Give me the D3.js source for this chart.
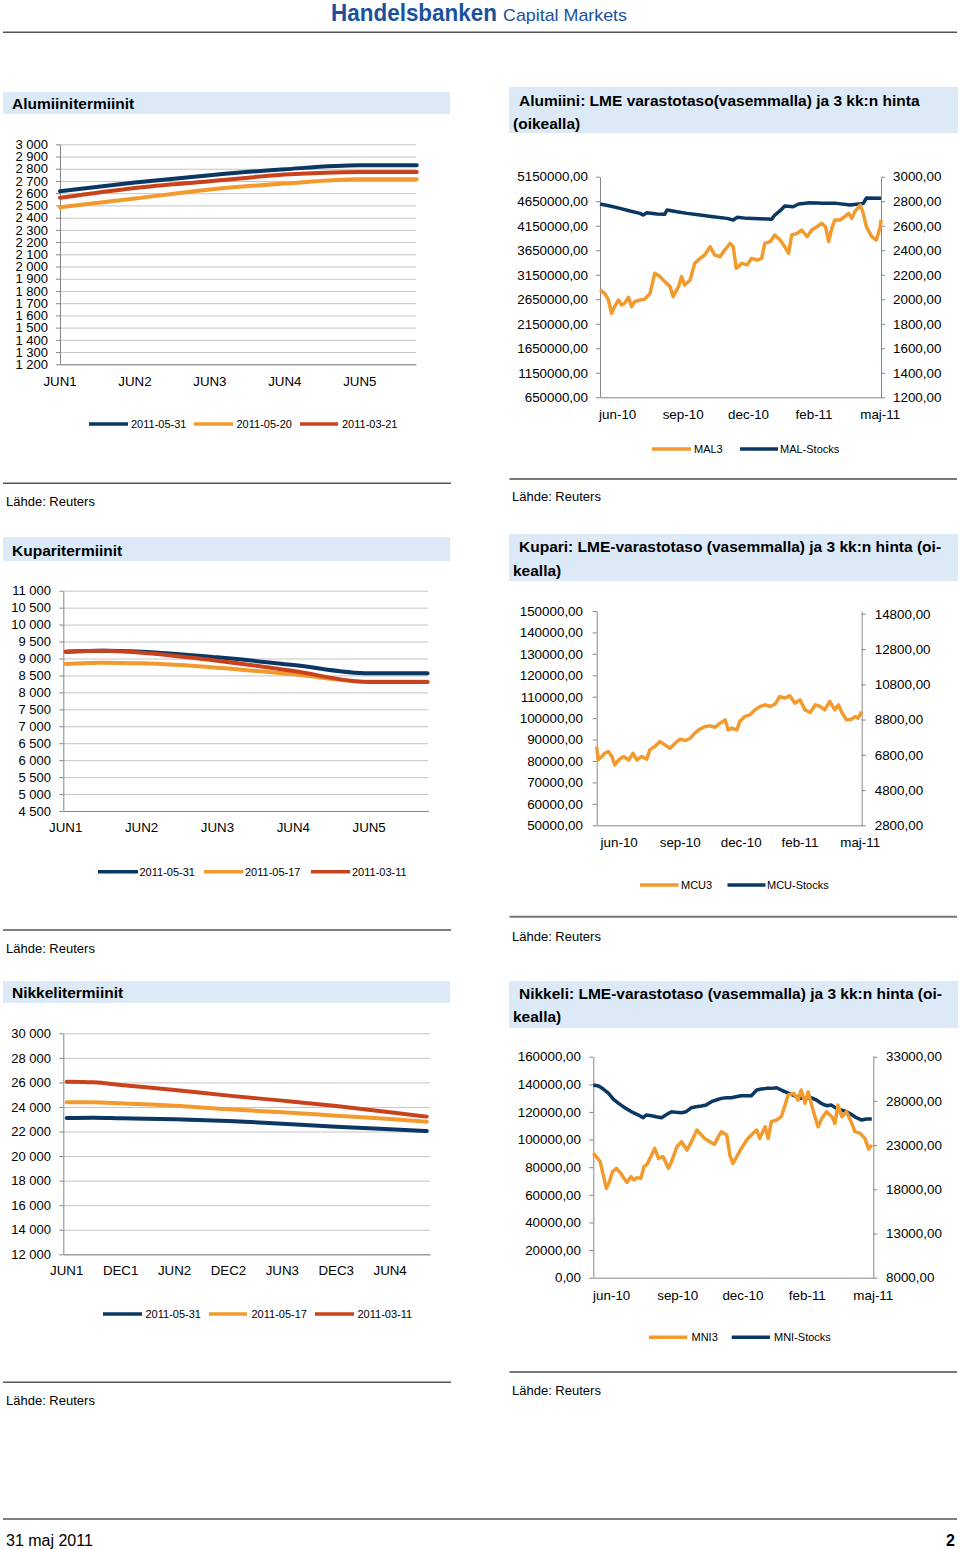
<!DOCTYPE html>
<html>
<head>
<meta charset="utf-8">
<script src="https://cdn.jsdelivr.net/npm/d3@7"></script>
<style>
body { margin: 0; background: #fff; }
text { font-family: "Liberation Sans", Arial, sans-serif; fill: #000; }
</style>
</head>
<body>
<div id="page"></div>
<script>
// ---- data ----
const fwdLegendAl = ["2011-05-31", "2011-05-20", "2011-03-21"];
const fwdLegendCuNi = ["2011-05-31", "2011-05-17", "2011-03-11"];

// aluminium forward curve
const alMonths = ["JUN1", "JUN2", "JUN3", "JUN4", "JUN5"];
const alPos = [0, 1, 2, 3, 4, 4.76];
const al0531 = [2616, 2687, 2747, 2796, 2828, 2828];
const al0520 = [2485, 2556, 2630, 2679, 2714, 2714];
const al0321 = [2562, 2643, 2698, 2752, 2774, 2774];

// copper forward curve
const cuMonths = ["JUN1", "JUN2", "JUN3", "JUN4", "JUN5"];
const cuPos = [0, 0.5, 1, 2, 3, 4, 4.77];
const cu0531 = [9200, 9230, 9200, 9033, 8807, 8561, 8561];
const cu0517 = [8837, 8876, 8856, 8728, 8532, 8315, 8315];
const cu0311 = [9200, 9230, 9171, 8935, 8630, 8306, 8306];

// nickel forward curve
const niMonths = ["JUN1", "DEC1", "JUN2", "DEC2", "JUN3", "DEC3", "JUN4"];
const niPos = [0, 0.5, 1, 2, 3, 4, 5, 6, 6.68];
const ni0531 = [23104, 23131, 23077, 22995, 22860, 22642, 22398, 22180, 22045];
const ni0517 = [24380, 24380, 24298, 24108, 23810, 23565, 23294, 23022, 22805];
const ni0311 = [26063, 26010, 25792, 25385, 24923, 24516, 24081, 23565, 23213];

// time axis labels (days from start of window)
const monthLabels = ["jun-10", "sep-10", "dec-10", "feb-11", "maj-11"];
const alTickDays = [23, 108, 193, 278, 364];
const cuTickDays = [31, 115, 199, 280, 363];
const niTickDays = [24, 110, 195, 279, 365];

// MAL-Stocks (left axis)
const alStockDays = [0, 13, 26, 39, 52, 56, 61, 74, 84, 87, 100, 113, 130, 147, 165, 173, 178, 191, 208, 223, 227, 234, 240, 251, 258, 273, 290, 307, 325, 342, 346, 365];
const alStockVals = [4593000, 4552000, 4504000, 4450000, 4402000, 4368000, 4416000, 4389000, 4382000, 4470000, 4436000, 4402000, 4368000, 4334000, 4300000, 4266000, 4321000, 4300000, 4293000, 4280000, 4368000, 4457000, 4552000, 4538000, 4593000, 4620000, 4606000, 4606000, 4572000, 4606000, 4715000, 4708000];
// MAL3 (right axis)
const alPriceDays = [0, 6, 11, 15, 19, 24, 28, 32, 37, 41, 45, 52, 58, 65, 71, 78, 84, 91, 95, 102, 106, 110, 117, 123, 130, 136, 143, 149, 156, 162, 169, 173, 177, 184, 191, 197, 204, 210, 214, 221, 227, 234, 240, 245, 249, 256, 262, 269, 275, 282, 288, 293, 297, 301, 305, 312, 318, 323, 327, 331, 338, 342, 346, 353, 359, 364, 365];
const alPriceVals = [2076, 2048, 1994, 1885, 1940, 1994, 1953, 1967, 2016, 1940, 1980, 1994, 2000, 2048, 2212, 2185, 2144, 2103, 2021, 2103, 2185, 2116, 2157, 2293, 2334, 2361, 2429, 2361, 2347, 2402, 2456, 2429, 2252, 2293, 2280, 2334, 2320, 2334, 2456, 2470, 2524, 2483, 2429, 2375, 2524, 2538, 2565, 2511, 2565, 2592, 2619, 2592, 2470, 2579, 2647, 2647, 2674, 2701, 2660, 2715, 2769, 2701, 2592, 2511, 2483, 2592, 2647];

// MCU3 (right axis); MCU-Stocks is off the left scale
const cuPriceDays = [0, 2, 7, 11, 16, 21, 25, 30, 37, 44, 50, 55, 62, 69, 73, 80, 87, 94, 101, 108, 115, 122, 129, 135, 142, 149, 156, 163, 170, 177, 181, 186, 193, 197, 204, 211, 218, 225, 232, 239, 246, 252, 259, 266, 273, 280, 287, 294, 301, 308, 314, 321, 328, 333, 337, 344, 351, 356, 360, 365];
const cuPriceVals = [7267, 6510, 6700, 6889, 6983, 6700, 6226, 6510, 6700, 6510, 6889, 6510, 6700, 6548, 7078, 7267, 7551, 7362, 7173, 7457, 7684, 7608, 7741, 8025, 8252, 8403, 8441, 8365, 8593, 8782, 8214, 8309, 8214, 8687, 8971, 9066, 9350, 9539, 9634, 9539, 9691, 10107, 10012, 10145, 9728, 9917, 9350, 9198, 9634, 9539, 9350, 9823, 9350, 9634, 9255, 8782, 8820, 8971, 8876, 9255];
const cuStockDays = [];
const cuStockVals = [];

// MNI-Stocks (left axis)
const niStockDays = [0, 7, 13, 20, 26, 33, 39, 46, 52, 59, 65, 69, 76, 82, 89, 96, 102, 108, 115, 121, 128, 134, 141, 147, 154, 160, 167, 174, 180, 186, 193, 199, 206, 213, 219, 226, 232, 239, 245, 252, 258, 265, 271, 278, 284, 291, 297, 304, 310, 317, 323, 330, 336, 343, 350, 356, 363];
const niStockVals = [139490, 138766, 136594, 133457, 129355, 126218, 123805, 121392, 119462, 117773, 115842, 117773, 117290, 116566, 115842, 118255, 120185, 119703, 119462, 120185, 123081, 123805, 124287, 125011, 127424, 128631, 129837, 130320, 130320, 131044, 131768, 131768, 131768, 135870, 136594, 137077, 137077, 137559, 135870, 134181, 132733, 131044, 129837, 129837, 130320, 128631, 126218, 124529, 125011, 122598, 121392, 120185, 118255, 115842, 114153, 114877, 114877];
// MNI3 (right axis)
const niPriceDays = [0, 4, 9, 13, 17, 21, 25, 30, 36, 40, 44, 49, 53, 57, 62, 66, 70, 76, 80, 85, 91, 98, 102, 109, 115, 122, 128, 135, 139, 145, 152, 158, 163, 167, 174, 178, 182, 187, 193, 200, 206, 213, 217, 224, 228, 232, 239, 245, 250, 254, 261, 267, 271, 276, 280, 287, 293, 298, 304, 311, 315, 319, 324, 330, 337, 341, 348, 354, 359, 363];
const niPriceVals = [22064, 21687, 21121, 19613, 18105, 18859, 19990, 20367, 19802, 19236, 18784, 19425, 19048, 19312, 19236, 20556, 20820, 21876, 22630, 21499, 21687, 20367, 21121, 22818, 23384, 22441, 23384, 24704, 24327, 23761, 23384, 23082, 23950, 24516, 24138, 21876, 20933, 21687, 22630, 23573, 24138, 24704, 23761, 25081, 23761, 25647, 25835, 26212, 27532, 28663, 28852, 28098, 29229, 27721, 29041, 26778, 25081, 26024, 26778, 26212, 25458, 27532, 26212, 26778, 25458, 24516, 24327, 23761, 22554, 23007];

// ---- style ----
const BLUE = "#0b3763";
const ORANGE = "#f29a2e";
const RED = "#c9421b";
const GRID = "#c4c4c4";
const AXIS = "#878787";
const TITLE_BG = "#dceaf8";
const BRAND = "#1a519d";

const loc = d3.formatLocale({decimal: ",", thousands: " ", grouping: [3], currency: ["", ""]});
const fmtFwd = loc.format(",d");
const fmtTs = loc.format(".2f");

const svg = d3.select("#page").append("svg")
  .attr("width", 960)
  .attr("height", 1549);

svg.append("rect").attr("width", 960).attr("height", 1549).attr("fill", "white");

// header
svg.append("text").attr("x", 331).attr("y", 21)
  .attr("font-size", 24).attr("font-weight", "bold")
  .attr("textLength", 166).attr("lengthAdjust", "spacingAndGlyphs")
  .style("fill", BRAND).text("Handelsbanken");
svg.append("text").attr("x", 503).attr("y", 20.5)
  .attr("font-size", 17)
  .attr("textLength", 124).attr("lengthAdjust", "spacingAndGlyphs")
  .style("fill", BRAND).text("Capital Markets");
svg.append("line").attr("x1", 3).attr("x2", 957).attr("y1", 32.3).attr("y2", 32.3)
  .attr("stroke", "#555").attr("stroke-width", 1.5);

function titleBox(b) {
  svg.append("rect").attr("x", b.x).attr("y", b.y).attr("width", b.w).attr("height", b.h)
    .attr("fill", TITLE_BG);
  b.lines.forEach((t, i) => {
    svg.append("text").attr("x", b.tx[i]).attr("y", b.ty[i]).attr("dy", "0.35em")
      .attr("font-size", 15.5).attr("font-weight", "bold").text(t);
  });
}

function styleAxis(size) {
  return a => {
    a.select(".domain").attr("stroke", AXIS);
    a.selectAll(".tick line").attr("stroke", AXIS);
    a.selectAll("text").attr("font-size", size);
  };
}

function legend(items) {
  items.forEach(it => {
    svg.append("line").attr("x1", it.x1).attr("x2", it.x2).attr("y1", it.y).attr("y2", it.y)
      .attr("stroke", it.color).attr("stroke-width", 3.5);
    svg.append("text").attr("x", it.tx).attr("y", it.y).attr("dy", "0.35em")
      .attr("font-size", 11).text(it.label);
  });
}

function source(s) {
  svg.append("line").attr("x1", s.x1).attr("x2", s.x2).attr("y1", s.ly).attr("y2", s.ly)
    .attr("stroke", s.stroke).attr("stroke-width", s.sw);
  svg.append("text").attr("x", s.tx).attr("y", s.ty).attr("dy", "0.35em")
    .attr("font-size", 13).text("Lähde: Reuters");
}

function forwardChart(c, months, pos, series) {
  const g = svg.append("g");
  const x = d3.scaleLinear().domain(c.xDomain).range([c.left, c.right]);
  const y = d3.scaleLinear().domain(c.yDomain).range([c.bottom, c.top]);
  const yTicks = d3.range(c.yDomain[0], c.yDomain[1] + c.yStep / 2, c.yStep);

  // gridlines
  g.append("g").attr("transform", `translate(${c.left},0)`)
    .call(d3.axisLeft(y).tickValues(yTicks).tickSize(-(c.right - c.left)).tickFormat(""))
    .call(a => { a.select(".domain").remove(); a.selectAll("line").attr("stroke", GRID); });

  // y axis
  g.append("g").attr("transform", `translate(${c.left},0)`)
    .call(d3.axisLeft(y).tickValues(yTicks).tickSize(4).tickSizeOuter(0).tickPadding(c.pad).tickFormat(fmtFwd))
    .call(styleAxis(13));

  // x axis line
  g.append("g").attr("transform", `translate(0,${c.bottom})`)
    .call(d3.axisBottom(x).tickValues([]).tickSizeOuter(0))
    .call(styleAxis(13));

  g.selectAll("text.cat").data(months).join("text").attr("class", "cat")
    .attr("x", (d, i) => x(i)).attr("y", c.labelY).attr("dy", "0.35em")
    .attr("text-anchor", "middle").attr("font-size", 13.3).text(d => d);

  const line = d3.line().x((d, i) => x(pos[i])).y(d => y(d)).curve(d3.curveMonotoneX);
  series.forEach(s => {
    g.append("path").datum(s.values).attr("d", line)
      .attr("fill", "none").attr("stroke", s.color).attr("stroke-width", 4)
      .attr("stroke-linecap", "round");
  });
}

function timeChart(c, tickDays, series) {
  const g = svg.append("g");
  const x = d3.scaleLinear().domain([0, 365]).range([c.left, c.right]);
  const yL = d3.scaleLinear().domain(c.lDomain).range([c.bottom, c.top]);
  const yR = d3.scaleLinear().domain(c.rDomain).range([c.bottom, c.top]);
  const lTicks = d3.range(c.lDomain[0], c.lMax + c.lStep / 2, c.lStep);
  const rTicks = d3.range(c.rDomain[0], c.rMax + c.rStep / 2, c.rStep);

  g.append("g").attr("transform", `translate(${c.left},0)`)
    .call(d3.axisLeft(yL).tickValues(lTicks).tickSize(4).tickSizeOuter(0).tickPadding(c.lPad).tickFormat(fmtTs))
    .call(styleAxis(13.4));
  g.append("g").attr("transform", `translate(${c.right},0)`)
    .call(d3.axisRight(yR).tickValues(rTicks).tickSize(4).tickSizeOuter(0).tickPadding(c.rPad).tickFormat(fmtTs))
    .call(styleAxis(13.4));
  g.append("g").attr("transform", `translate(0,${c.bottom})`)
    .call(d3.axisBottom(x).tickValues([]).tickSizeOuter(0))
    .call(styleAxis(13.4));

  g.selectAll("text.mon").data(monthLabels).join("text").attr("class", "mon")
    .attr("x", (d, i) => x(tickDays[i])).attr("y", c.labelY).attr("dy", "0.35em")
    .attr("text-anchor", "middle").attr("font-size", 13.4).text(d => d);

  series.forEach(s => {
    const yS = s.axis === "left" ? yL : yR;
    const pts = s.days.map((d, i) => [d, s.values[i]]);
    const line = d3.line().x(d => x(d[0])).y(d => yS(d[1]));
    g.append("path").datum(pts).attr("d", line)
      .attr("fill", "none").attr("stroke", s.color).attr("stroke-width", 3.5)
      .attr("stroke-linejoin", "round");
  });
}

// ---- row 1: aluminium ----
titleBox({x: 3, y: 92, w: 447, h: 22, lines: ["Alumiinitermiinit"], tx: [12], ty: [104]});
forwardChart({left: 60, right: 416, top: 144.3, bottom: 364.3, xDomain: [0, 4.75],
  yDomain: [1200, 3000], yStep: 100, pad: 8, labelY: 381},
  alMonths, alPos,
  [{values: al0531, color: BLUE}, {values: al0520, color: ORANGE}, {values: al0321, color: RED}]);
legend([
  {label: fwdLegendAl[0], color: BLUE, x1: 89, x2: 128, tx: 131, y: 424},
  {label: fwdLegendAl[1], color: ORANGE, x1: 194, x2: 233, tx: 236.5, y: 424},
  {label: fwdLegendAl[2], color: RED, x1: 300, x2: 338, tx: 342, y: 424}
]);

titleBox({x: 509, y: 87, w: 449, h: 46,
  lines: ["Alumiini: LME varastotaso(vasemmalla) ja 3 kk:n hinta", "(oikealla)"],
  tx: [519, 513], ty: [100.7, 123.3]});
timeChart({left: 600, right: 881, top: 176.7, bottom: 397.3,
  lDomain: [650000, 5150000], lMax: 5150000, lStep: 500000, lPad: 8,
  rDomain: [1200, 3000], rMax: 3000, rStep: 200, rPad: 8, labelY: 414},
  alTickDays,
  [{days: alStockDays, values: alStockVals, axis: "left", color: BLUE},
   {days: alPriceDays, values: alPriceVals, axis: "right", color: ORANGE}]);
legend([
  {label: "MAL3", color: ORANGE, x1: 652, x2: 691, tx: 694, y: 449},
  {label: "MAL-Stocks", color: BLUE, x1: 740, x2: 778, tx: 780, y: 449}
]);

source({x1: 3, x2: 451, ly: 483.3, stroke: "#555", sw: 1.5, tx: 6, ty: 501.7});
source({x1: 509.5, x2: 957, ly: 479, stroke: "#777", sw: 2, tx: 512, ty: 496.7});

// ---- row 2: copper ----
titleBox({x: 3, y: 537, w: 447, h: 24, lines: ["Kuparitermiinit"], tx: [12], ty: [551]});
forwardChart({left: 63.3, right: 428.3, top: 590.7, bottom: 811, xDomain: [-0.032, 4.78],
  yDomain: [4500, 11000], yStep: 500, pad: 8.3, labelY: 827.7},
  cuMonths, cuPos,
  [{values: cu0531, color: BLUE}, {values: cu0517, color: ORANGE}, {values: cu0311, color: RED}]);
legend([
  {label: fwdLegendCuNi[0], color: BLUE, x1: 98, x2: 138, tx: 139.5, y: 871.7},
  {label: fwdLegendCuNi[1], color: ORANGE, x1: 204, x2: 243, tx: 245, y: 871.7},
  {label: fwdLegendCuNi[2], color: RED, x1: 311, x2: 350, tx: 352, y: 871.7}
]);

titleBox({x: 509, y: 534, w: 449, h: 47,
  lines: ["Kupari: LME-varastotaso (vasemmalla) ja 3 kk:n hinta (oi-", "kealla)"],
  tx: [519, 513], ty: [547, 571]});
timeChart({left: 596.7, right: 861.7, top: 611, bottom: 825.3,
  lDomain: [50000, 150000], lMax: 150000, lStep: 10000, lPad: 9.7,
  rDomain: [2800, 14960], rMax: 14800, rStep: 2000, rPad: 9, labelY: 842},
  cuTickDays,
  [{days: cuStockDays, values: cuStockVals, axis: "left", color: BLUE},
   {days: cuPriceDays, values: cuPriceVals, axis: "right", color: ORANGE}]);
legend([
  {label: "MCU3", color: ORANGE, x1: 640, x2: 678.5, tx: 681, y: 885},
  {label: "MCU-Stocks", color: BLUE, x1: 727.5, x2: 765.5, tx: 767, y: 885}
]);

source({x1: 3, x2: 451, ly: 930, stroke: "#555", sw: 1.5, tx: 6, ty: 948});
source({x1: 509.5, x2: 957, ly: 916.7, stroke: "#777", sw: 2, tx: 512, ty: 936});

// ---- row 3: nickel ----
titleBox({x: 3, y: 981, w: 447, h: 22, lines: ["Nikkelitermiinit"], tx: [12], ty: [993]});
forwardChart({left: 63.3, right: 430, top: 1033.3, bottom: 1254.3, xDomain: [-0.064, 6.74],
  yDomain: [12000, 30000], yStep: 2000, pad: 8.3, labelY: 1270.7},
  niMonths, niPos,
  [{values: ni0531, color: BLUE}, {values: ni0517, color: ORANGE}, {values: ni0311, color: RED}]);
legend([
  {label: fwdLegendCuNi[0], color: BLUE, x1: 103, x2: 142, tx: 145.5, y: 1314},
  {label: fwdLegendCuNi[1], color: ORANGE, x1: 209, x2: 247, tx: 251.5, y: 1314},
  {label: fwdLegendCuNi[2], color: RED, x1: 315, x2: 354, tx: 357.5, y: 1314}
]);

titleBox({x: 509, y: 981, w: 449, h: 47,
  lines: ["Nikkeli: LME-varastotaso (vasemmalla) ja 3 kk:n hinta (oi-", "kealla)"],
  tx: [519, 513], ty: [994, 1017]});
timeChart({left: 593.3, right: 873.3, top: 1056.7, bottom: 1277.7,
  lDomain: [0, 160000], lMax: 160000, lStep: 20000, lPad: 8.3,
  rDomain: [8000, 33000], rMax: 33000, rStep: 5000, rPad: 8.7, labelY: 1295},
  niTickDays,
  [{days: niStockDays, values: niStockVals, axis: "left", color: BLUE},
   {days: niPriceDays, values: niPriceVals, axis: "right", color: ORANGE}]);
legend([
  {label: "MNI3", color: ORANGE, x1: 649, x2: 687.3, tx: 691.5, y: 1337.3},
  {label: "MNI-Stocks", color: BLUE, x1: 731.7, x2: 770, tx: 774, y: 1337.3}
]);

source({x1: 3, x2: 451, ly: 1382.3, stroke: "#555", sw: 1.5, tx: 6, ty: 1400.7});
source({x1: 509.5, x2: 957, ly: 1372, stroke: "#777", sw: 2, tx: 512, ty: 1390});

// ---- footer ----
svg.append("line").attr("x1", 3).attr("x2", 957).attr("y1", 1519).attr("y2", 1519)
  .attr("stroke", "#555").attr("stroke-width", 1.5);
svg.append("text").attr("x", 6).attr("y", 1540).attr("dy", "0.35em")
  .attr("font-size", 16).text("31 maj 2011");
svg.append("text").attr("x", 955).attr("y", 1540).attr("dy", "0.35em")
  .attr("text-anchor", "end").attr("font-size", 16).attr("font-weight", "bold").text("2");
</script>
</body>
</html>
